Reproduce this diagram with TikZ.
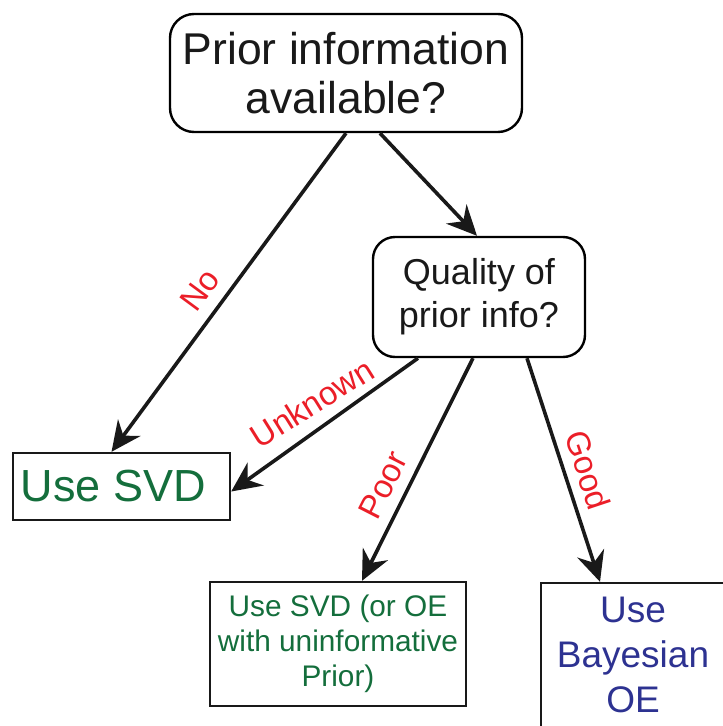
\documentclass[tikz,border=0pt]{standalone}
\usepackage{fontspec}
\setmainfont{Liberation Sans}
\usetikzlibrary{arrows.meta}
\definecolor{svdgreen}{RGB}{20,110,60}
\definecolor{oeblue}{RGB}{45,50,145}
\definecolor{lblred}{RGB}{235,30,40}
\tikzset{
  qbox/.style={draw=black, line width=2.4pt, rounded corners=24pt, align=center, inner sep=0pt, text=black!90},
  abox/.style={draw=black!90, line width=2.4pt, align=center, inner sep=0pt},
  conn/.style={draw=black!90, line width=3.6pt, -{Stealth[length=30pt,width=28pt,inset=10pt]}},
  lbl/.style={text=lblred, font=\fontsize{33}{33}\selectfont, inner sep=0pt}
}
\begin{document}
\begin{tikzpicture}[x=1pt,y=-1pt]
\useasboundingbox (0,0) rectangle (723,726);
\clip (0,0) rectangle (723,726);
\node[qbox, minimum width=352pt, minimum height=118pt, font=\fontsize{44.5}{49}\selectfont] (top) at (346,73) {Prior information\\available?};
\node[qbox, rounded corners=22pt, minimum width=212pt, minimum height=120pt, font=\fontsize{36}{43}\selectfont] (qual) at (479,297) {Quality of\\prior info?};
\node[abox, minimum width=217pt, minimum height=67pt, text=svdgreen, font=\fontsize{45}{45}\selectfont] (svd) at (121.5,486.5) {Use SVD\hspace*{16pt}};
\node[abox, minimum width=256pt, minimum height=124pt, text=svdgreen, font=\fontsize{29.8}{35}\selectfont] (oe) at (338,644) {Use SVD (or OE\\with uninformative\\Prior)};
\node[abox, minimum width=184pt, minimum height=144pt, text=oeblue, font=\fontsize{37}{45}\selectfont] (bay) at (633,655) {Use\\Bayesian\\OE};
\draw[conn] (top.south) -- ([xshift=-10pt]svd.north);
\draw[conn] ([xshift=34pt]top.south) -- ([xshift=-2pt]qual.north);
\draw[conn] ([xshift=-61pt]qual.south) -- ([yshift=-5pt]svd.east);
\draw[conn] ([xshift=-6pt]qual.south) -- ([xshift=24pt]oe.north);
\draw[conn] ([xshift=48pt]qual.south) -- ([xshift=-33pt]bay.north);
\node[lbl, rotate=53.6] (lno) at (200,290) {No};
\node[lbl, rotate=32] (lunk) at (312,403) {Unknown};
\node[lbl, rotate=63] (lpoor) at (383,485) {Poor};
\node[lbl, rotate=-71.6] (lgood) at (588,470) {Good};
\end{tikzpicture}
\end{document}
